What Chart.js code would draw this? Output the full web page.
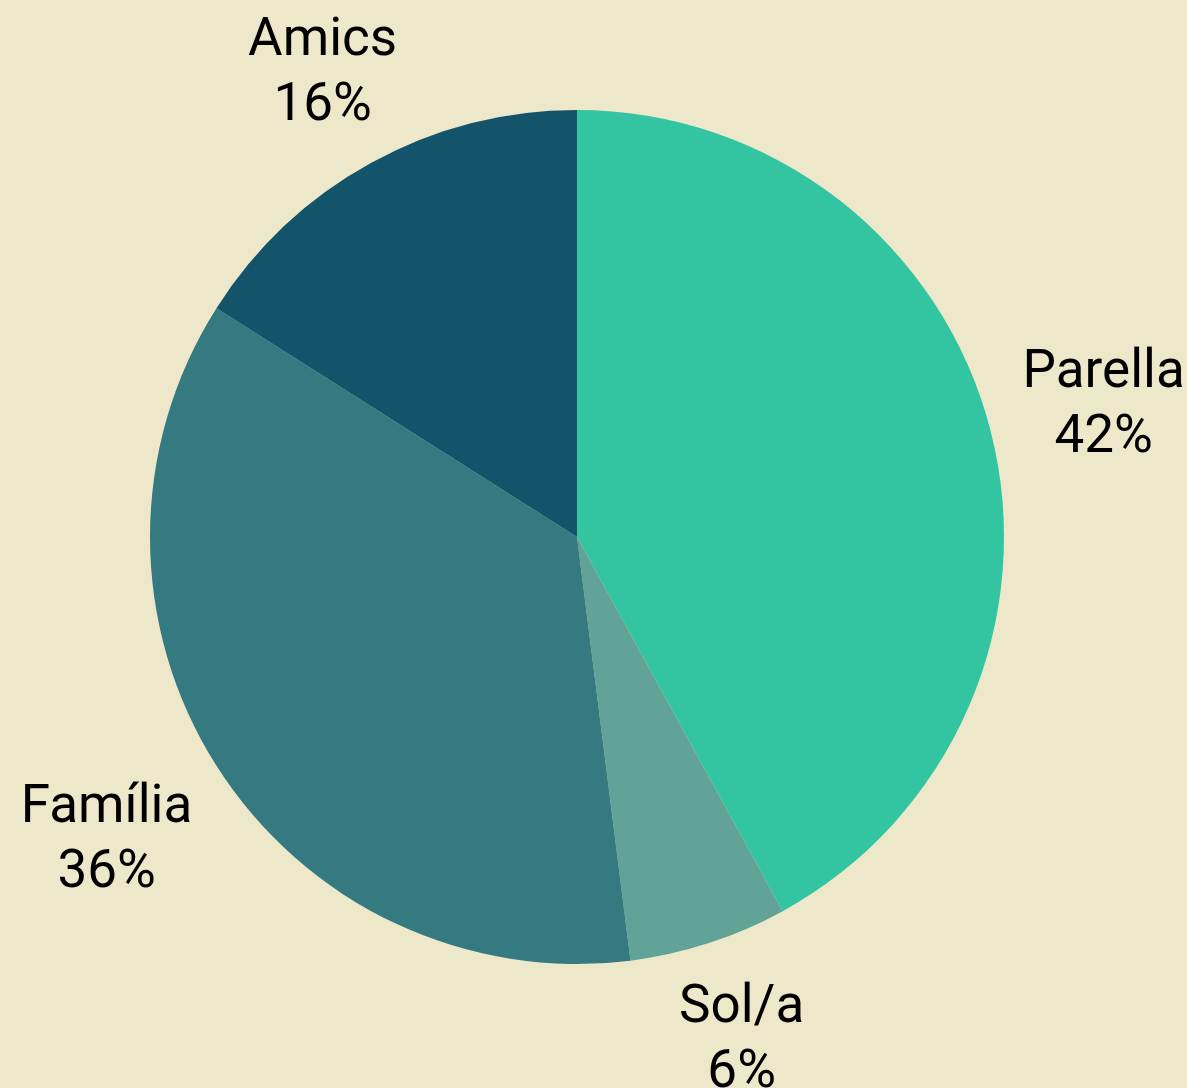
<!DOCTYPE html>
<html>
<head>
<meta charset="utf-8">
<script src="https://cdn.jsdelivr.net/npm/chart.js@4/dist/chart.umd.min.js"></script>
<style>
  html, body { margin: 0; padding: 0; background: #EEE8CB; }
  #wrap { width: 1187px; height: 1088px; position: relative; }
</style>
</head>
<body>
<div id="wrap"><canvas id="pie"></canvas></div>
<script>
const categories = ['Parella', 'Sol/a', 'Família', 'Amics'];
const shares = [42, 6, 36, 16];
const sliceColors = ['#33C4A1', '#62A397', '#357A80', '#13546B'];

// outside labels: box edge sits a fixed gap past the rim
const outsideLabels = {
  id: 'outsideLabels',
  afterDatasetsDraw(chart) {
    const ctx = chart.ctx;
    const meta = chart.getDatasetMeta(0);
    const lineH = 65;
    ctx.save();
    ctx.font = '53px Roboto';
    ctx.fillStyle = '#000';
    ctx.textAlign = 'center';
    ctx.textBaseline = 'middle';
    meta.data.forEach((arc, i) => {
      const mid = (arc.startAngle + arc.endAngle) / 2;
      const dx = Math.cos(mid), dy = Math.sin(mid);
      const lines = [categories[i], shares[i] + '%'];
      const hw = Math.max(...lines.map(t => ctx.measureText(t).width)) / 2;
      const hh = lineH;
      const toEdge = Math.min(
        Math.abs(dx) > 1e-6 ? hw / Math.abs(dx) : Infinity,
        Math.abs(dy) > 1e-6 ? hh / Math.abs(dy) : Infinity
      );
      const d = arc.outerRadius + 31 + toEdge;
      const cx = arc.x + dx * d + 2;
      const cy = arc.y + dy * d + 4;
      ctx.fillText(lines[0], cx, cy - lineH / 2);
      ctx.fillText(lines[1], cx, cy + lineH / 2);
    });
    ctx.restore();
  }
};

new Chart(document.getElementById('pie'), {
  type: 'pie',
  data: {
    labels: categories,
    datasets: [{
      data: shares,
      backgroundColor: sliceColors,
      borderWidth: 0
    }]
  },
  options: {
    responsive: true,
    maintainAspectRatio: false,
    animation: false,
    layout: { padding: { left: 150, right: 183, top: 110, bottom: 124 } },
    plugins: {
      legend: { display: false },
      tooltip: { enabled: false }
    }
  },
  plugins: [outsideLabels]
});
</script>
</body>
</html>
